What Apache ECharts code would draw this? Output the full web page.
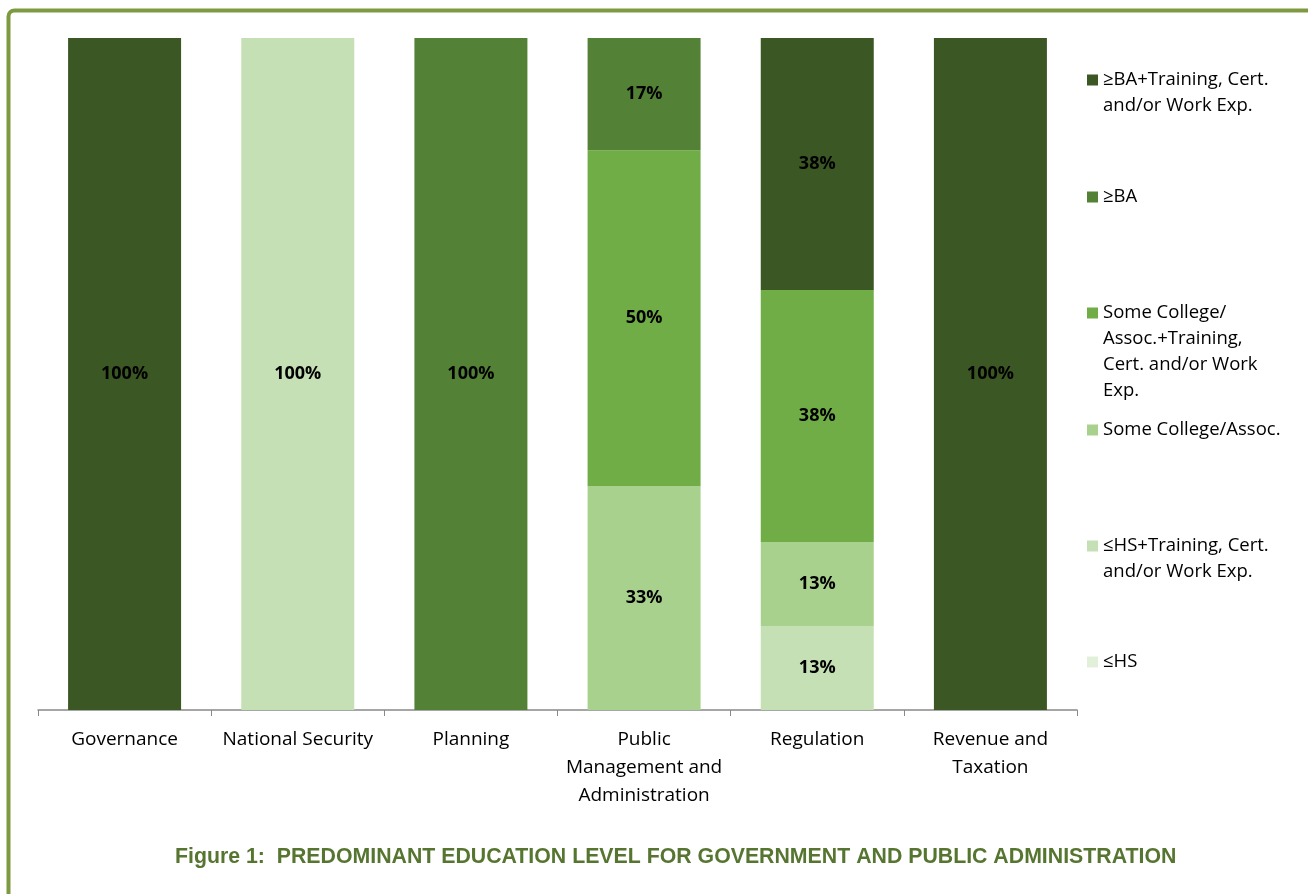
<!DOCTYPE html>
<html>
<head>
<meta charset="utf-8">
<script src="https://cdn.jsdelivr.net/npm/echarts@6/dist/echarts.min.js"></script>
<style>html,body{margin:0;padding:0;background:#fff;}#c{width:1308px;height:894px;}</style>
</head>
<body>
<div id="c"></div>
<script>
const categories = ['Governance', 'National Security', 'Planning', 'Public\nManagement and\nAdministration', 'Regulation', 'Revenue and\nTaxation'];
const seriesNames = ['≤HS', '≤HS+Training, Cert. and/or Work Exp.', 'Some College/Assoc.', 'Some College/ Assoc.+Training, Cert. and/or Work Exp.', '≥BA', '≥BA+Training, Cert. and/or Work Exp.'];
const hs = [0, 0, 0, 0, 0, 0];
const hsTraining = [0, 100, 0, 0, 12.5, 0];
const someCollege = [0, 0, 0, 33.3, 12.5, 0];
const someCollegeTraining = [0, 0, 0, 50, 37.5, 0];
const ba = [0, 0, 100, 16.7, 0, 0];
const baTraining = [100, 0, 0, 0, 37.5, 100];
const legendLabels = ['≤HS', '≤HS+Training, Cert.\nand/or Work Exp.', 'Some College/Assoc.', 'Some College/\nAssoc.+Training,\nCert. and/or Work\nExp.', '≥BA', '≥BA+Training, Cert.\nand/or Work Exp.'];

const colors = ['#e2f0d9', '#c5e0b4', '#a9d18e', '#70ad47', '#538135', '#3b5724'];
const allData = [hs, hsTraining, someCollege, someCollegeTraining, ba, baTraining];
const font = 'Open Sans, DejaVu Sans, sans-serif';

const chart = echarts.init(document.getElementById('c'));

const legendCenters = [662, 546, 430, 313, 197, 80];
const LH = 26;
const legends = seriesNames.map((name, i) => {
  const lines = legendLabels[i].split('\n');
  const n = lines.length;
  const text = '\n'.repeat(n - 1) + legendLabels[i];
  const total = 2 * n - 1;
  return {
    orient: 'vertical',
    left: 1087,
    top: legendCenters[i] - total * LH / 2,
    padding: 0,
    itemWidth: 11,
    itemHeight: 11,
    icon: 'rect',
    selectedMode: false,
    data: [name],
    formatter: () => text,
    textStyle: { fontFamily: font, fontSize: 18.5, color: '#000', lineHeight: LH }
  };
});

const series = seriesNames.map((name, i) => ({
  name: name,
  type: 'bar',
  stack: 'total',
  barWidth: 113,
  data: allData[i],
  itemStyle: { color: colors[i] },
  label: {
    show: true,
    position: 'inside',
    fontFamily: font,
    fontSize: 18,
    fontWeight: 'bold',
    color: '#000',
    formatter: p => p.value > 0 ? Math.round(p.value) + '%' : ''
  }
}));

chart.setOption({
  animation: false,
  color: colors,
  title: {
    text: 'Figure 1:  PREDOMINANT EDUCATION LEVEL FOR GOVERNMENT AND PUBLIC ADMINISTRATION',
    left: 175,
    top: 847,
    padding: 0,
    textStyle: { fontFamily: 'Liberation Sans Narrow, Liberation Sans, Arial, sans-serif', fontSize: 21.3, fontWeight: 'bold', color: '#567530' }
  },
  legend: legends,
  grid: { left: 38, right: 231, top: 38, bottom: 184, containLabel: false },
  xAxis: {
    type: 'category',
    data: categories,
    axisLine: { lineStyle: { color: '#898989', width: 1.5 } },
    axisTick: { show: true, length: 6, interval: 0, alignWithLabel: false, lineStyle: { color: '#898989' } },
    axisLabel: { interval: 0, margin: 16, fontFamily: font, fontSize: 19, color: '#000', lineHeight: 28 }
  },
  yAxis: { type: 'value', min: 0, max: 100, show: false, splitLine: { show: false } },
  graphic: [{
    type: 'rect',
    shape: { x: 8.5, y: 10.5, width: 1400, height: 1000, r: 6 },
    style: { fill: 'none', stroke: '#7e9a40', lineWidth: 4 },
    silent: true
  }],
  series: series
});
</script>
</body>
</html>
